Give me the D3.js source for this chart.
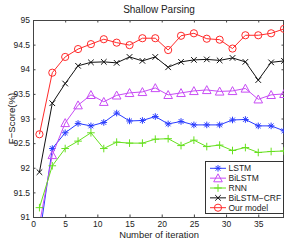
<!DOCTYPE html>
<html><head><meta charset="utf-8">
<script src="https://cdn.jsdelivr.net/npm/d3@7/dist/d3.min.js"></script>
<style>body{margin:0;background:#fff}svg{display:block}text{font-family:"Liberation Sans",Arial,Helvetica,sans-serif;fill:#222}</style>
</head><body>
<svg id="c" width="291" height="240"></svg>
<script>
const iterations = [1,3,5,7,9,11,13,15,17,19,21,23,25,27,29,31,33,35,37,39];
const lstm   = [90.6,92.39,92.71,92.90,92.85,92.92,93.11,92.95,92.96,93.04,92.89,92.94,92.87,92.87,92.87,92.97,92.98,92.85,92.85,92.75];
const bilstm = [90.85,92.26,92.91,93.27,93.48,93.34,93.47,93.52,93.54,93.62,93.48,93.52,93.56,93.58,93.55,93.56,93.61,93.39,93.48,93.50];
const rnn    = [91.19,92.04,92.39,92.54,92.71,92.39,92.52,92.50,92.50,92.58,92.59,92.45,92.56,92.43,92.46,92.35,92.41,92.31,92.33,92.34];
const crf    = [91.91,93.31,93.71,94.07,94.14,94.15,94.13,94.25,94.17,94.25,94.04,94.15,94.19,94.20,94.18,94.23,94.15,93.78,94.14,94.17];
const ours   = [92.68,93.93,94.25,94.41,94.51,94.61,94.54,94.49,94.63,94.63,94.39,94.68,94.73,94.62,94.60,94.42,94.69,94.69,94.73,94.82];
const seriesNames = ["LSTM","BiLSTM","RNN","BiLSTM\u2212CRF","Our model"];
const xTicks = [0,5,10,15,20,25,30,35];
const yTicks = [91,91.5,92,92.5,93,93.5,94,94.5,95];

const colors = ["#2a3cff","#c84cf5","#66e01e","#111111","#ff2a2a"];
const markers = ["star","tri","plus","x","circle"];
const data = [lstm,bilstm,rnn,crf,ours];

const svg = d3.select("#c");
const L=33, R=284, T=20, B=217;
const x = d3.scaleLinear().domain([0,39]).range([L,R]);
const y = d3.scaleLinear().domain([91,95]).range([B,T]);

svg.append("defs").append("clipPath").attr("id","clip")
  .append("rect").attr("x",L).attr("y",T).attr("width",R-L).attr("height",B-T);

const axCol="#444";
function styleAxis(g){g.select(".domain").remove();g.selectAll("line").attr("stroke",axCol);g.selectAll("text").style("font-size","8.5px").attr("fill","#222");}
svg.append("g").attr("transform",`translate(0,${B})`)
  .call(d3.axisBottom(x).tickValues(xTicks).tickSize(-2.5).tickPadding(3.5).tickFormat(d3.format("d")))
  .call(styleAxis);
svg.append("g").attr("transform",`translate(0,${T})`)
  .call(d3.axisTop(x).tickValues(xTicks).tickSize(-2.5).tickFormat(""))
  .call(styleAxis);
svg.append("g").attr("transform",`translate(${L},0)`)
  .call(d3.axisLeft(y).tickValues(yTicks).tickSize(-2.5).tickPadding(3).tickFormat(d=>String(d)))
  .call(styleAxis);
svg.append("g").attr("transform",`translate(${R},0)`)
  .call(d3.axisRight(y).tickValues(yTicks).tickSize(-2.5).tickFormat(""))
  .call(styleAxis);
svg.append("rect").attr("x",L+0.5).attr("y",T+0.5).attr("width",R-L-1).attr("height",B-T)
  .attr("fill","none").attr("stroke",axCol).attr("stroke-width",1);

function drawMarker(g,type,cx,cy,col){
  if(type==="circle"){g.append("circle").attr("cx",cx).attr("cy",cy).attr("r",3.6).attr("fill","none").attr("stroke",col).attr("stroke-width",1);}
  else if(type==="tri"){const s=4.3;g.append("path").attr("d",`M${cx},${cy-s}L${cx+s},${cy+s*0.85}L${cx-s},${cy+s*0.85}Z`).attr("fill","none").attr("stroke",col).attr("stroke-width",1);}
  else if(type==="plus"){const s=3.8;g.append("path").attr("d",`M${cx-s},${cy}H${cx+s}M${cx},${cy-s}V${cy+s}`).attr("stroke",col).attr("stroke-width",1);}
  else if(type==="x"){const s=2.8;g.append("path").attr("d",`M${cx-s},${cy-s}L${cx+s},${cy+s}M${cx-s},${cy+s}L${cx+s},${cy-s}`).attr("stroke",col).attr("stroke-width",1);}
  else if(type==="star"){const s=3.3,d=2.4;g.append("path").attr("d",`M${cx-s},${cy}H${cx+s}M${cx},${cy-s}V${cy+s}M${cx-d},${cy-d}L${cx+d},${cy+d}M${cx-d},${cy+d}L${cx+d},${cy-d}`).attr("stroke",col).attr("stroke-width",1);}
}

const line = d3.line().x((d,i)=>x(iterations[i])).y(d=>y(d));
const plot = svg.append("g").attr("clip-path","url(#clip)");
data.forEach((vals,k)=>{
  const g = plot.append("g");
  g.append("path").datum(vals).attr("d",line).attr("fill","none").attr("stroke",colors[k]).attr("stroke-width",1);
  vals.forEach((v,i)=>{ if(v>=91 && v<=95) drawMarker(g,markers[k],x(iterations[i]),y(v),colors[k]); });
});

const lg = svg.append("g");
lg.append("rect").attr("x",205.5).attr("y",161.5).attr("width",78).attr("height",52).attr("fill","#fff").attr("stroke","#333").attr("stroke-width",1);
seriesNames.forEach((n,k)=>{
  const cy = 168.3 + k*9.85;
  lg.append("line").attr("x1",210).attr("x2",226).attr("y1",cy).attr("y2",cy).attr("stroke",colors[k]).attr("stroke-width",1);
  drawMarker(lg,markers[k],218,cy,colors[k]);
  lg.append("text").attr("x",228.5).attr("y",cy+3).style("font-size","8.5px").text(n);
});

svg.append("text").attr("x",159).attr("y",13).attr("text-anchor","middle").style("font-size","10px").text("Shallow Parsing");
svg.append("text").attr("x",159).attr("y",237.5).attr("text-anchor","middle").style("font-size","9.4px").text("Number of iteration");
svg.append("text").attr("transform","translate(15,118.5) rotate(-90)").attr("text-anchor","middle").style("font-size","9.6px").text("F\u2212Score(%)");
</script>
</body></html>
